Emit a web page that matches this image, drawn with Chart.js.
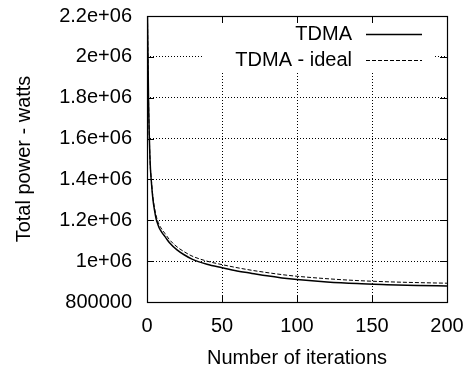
<!DOCTYPE html>
<html>
<head>
<meta charset="utf-8">
<script src="https://cdn.jsdelivr.net/npm/chart.js@4"></script>
<style>
  html, body { margin: 0; padding: 0; background: #fff; }
  #wrap { width: 468px; height: 372px; }
</style>
</head>
<body>
<div id="wrap"><canvas id="myChart" width="468" height="372"></canvas></div>
<script>
// valores
const iteraciones = [0, 1, 2, 3, 4, 5, 6, 7, 8, 10, 12, 15, 20, 25, 30, 40, 50, 60, 70, 80, 90, 100, 120, 140, 160, 180, 200];
const potenciaTDMA = [2400000, 1800000, 1500000, 1380000, 1300000, 1250000, 1210000, 1185000, 1165000, 1140000, 1120000, 1090000, 1055000, 1030000, 1010000, 985000, 968000, 952000, 940000, 928000, 918000, 910000, 898000, 890000, 885000, 881000, 878000];
const potenciaIdeal = [2400000, 1800000, 1500000, 1390000, 1310000, 1260000, 1225000, 1200000, 1180000, 1155000, 1135000, 1105000, 1070000, 1045000, 1025000, 1000000, 983000, 968000, 955000, 944000, 934000, 926000, 914000, 905000, 899000, 895000, 892000];
const etiquetasY = ['800000', '1e+06', '1.2e+06', '1.4e+06', '1.6e+06', '1.8e+06', '2e+06', '2.2e+06'];
const etiquetasX = ['0', '50', '100', '150', '200'];

const fuente = '"Liberation Sans", Arial, Helvetica, sans-serif';
Chart.defaults.font.family = fuente;
Chart.defaults.color = '#000';

// marco, marcas hacia adentro y leyenda al estilo gnuplot
const marcoGnuplot = {
    id: 'marcoGnuplot',
    beforeDatasetsDraw(chart) {
        const ctx = chart.ctx;
        const a = chart.chartArea;
        // fondo blanco de la leyenda (tapa la grilla)
        ctx.save();
        ctx.fillStyle = '#fff';
        ctx.fillRect(203, a.top + 1, 231, 54);
        ctx.restore();
    },
    afterDraw(chart) {
        const ctx = chart.ctx;
        const a = chart.chartArea;
        const xs = chart.scales.x;
        const ys = chart.scales.y;
        ctx.save();
        ctx.strokeStyle = '#000';
        ctx.lineWidth = 1;
        ctx.setLineDash([]);
        ctx.beginPath();
        xs.ticks.forEach(t => {
            const px = Math.round(xs.getPixelForValue(t.value)) + 0.5;
            ctx.moveTo(px, a.bottom); ctx.lineTo(px, a.bottom - 7);
            ctx.moveTo(px, a.top); ctx.lineTo(px, a.top + 7);
        });
        ys.ticks.forEach(t => {
            const py = Math.round(ys.getPixelForValue(t.value)) + 0.5;
            ctx.moveTo(a.left, py); ctx.lineTo(a.left + 7, py);
            ctx.moveTo(a.right, py); ctx.lineTo(a.right - 7, py);
        });
        ctx.stroke();
        ctx.lineWidth = 1.2;
        ctx.strokeRect(Math.round(a.left) + 0.5, Math.round(a.top) + 0.5, Math.round(a.right - a.left), Math.round(a.bottom - a.top));

        // leyenda
        ctx.font = '20px ' + fuente;
        ctx.fillStyle = '#000';
        ctx.textAlign = 'right';
        ctx.textBaseline = 'middle';
        chart.data.datasets.forEach((ds, i) => {
            const y = 34 + i * 26;
            ctx.fillText(ds.label, 352, y);
            ctx.beginPath();
            ctx.lineWidth = ds.borderWidth;
            ctx.setLineDash(ds.borderDash || []);
            ctx.moveTo(366, y + 0.5);
            ctx.lineTo(422, y + 0.5);
            ctx.stroke();
        });
        ctx.restore();
    }
};

const ctx = document.getElementById('myChart');

new Chart(ctx, {
    type: 'line',
    data: {
        datasets: [{
            label: 'TDMA',
            data: iteraciones.map((it, i) => ({ x: it, y: potenciaTDMA[i] })),
            borderColor: '#000',
            borderWidth: 1.5,
            pointRadius: 0,
            cubicInterpolationMode: 'monotone'
        }, {
            label: 'TDMA - ideal',
            data: iteraciones.map((it, i) => ({ x: it, y: potenciaIdeal[i] })),
            borderColor: '#000',
            borderWidth: 1,
            borderDash: [4, 2],
            pointRadius: 0,
            cubicInterpolationMode: 'monotone'
        }]
    },
    options: {
        responsive: false,
        animation: false,
        layout: { padding: { top: 16, right: 21, left: 0, bottom: 0 } },
        plugins: {
            legend: { display: false },
            tooltip: { enabled: false }
        },
        scales: {
            x: {
                type: 'linear',
                min: 0,
                max: 200,
                afterFit(scale) {
                    scale.height = 70;
                    scale.paddingLeft = 0;
                    scale.paddingRight = 0;
                },
                ticks: {
                    stepSize: 50,
                    padding: 12,
                    maxRotation: 0,
                    font: { size: 20 },
                    callback: (v, i) => etiquetasX[i]
                },
                grid: {
                    drawTicks: false,
                    color: '#000',
                    lineWidth: 1
                },
                border: { display: false, dash: [1, 2] },
                title: {
                    display: true,
                    text: 'Number of iterations',
                    font: { size: 20 },
                    padding: { top: 0, bottom: 2 }
                }
            },
            y: {
                min: 800000,
                max: 2200000,
                afterFit(scale) {
                    scale.width = 147;
                    scale.paddingTop = 0;
                    scale.paddingBottom = 0;
                },
                ticks: {
                    stepSize: 200000,
                    padding: 15,
                    font: { size: 20 },
                    callback: (v, i) => etiquetasY[i]
                },
                grid: {
                    drawTicks: false,
                    color: '#000',
                    lineWidth: 1
                },
                border: { display: false, dash: [1, 2] },
                title: {
                    display: true,
                    text: 'Total power - watts',
                    font: { size: 20 },
                    padding: { top: 12, bottom: 0 }
                }
            }
        }
    },
    plugins: [marcoGnuplot]
});
</script>
</body>
</html>
